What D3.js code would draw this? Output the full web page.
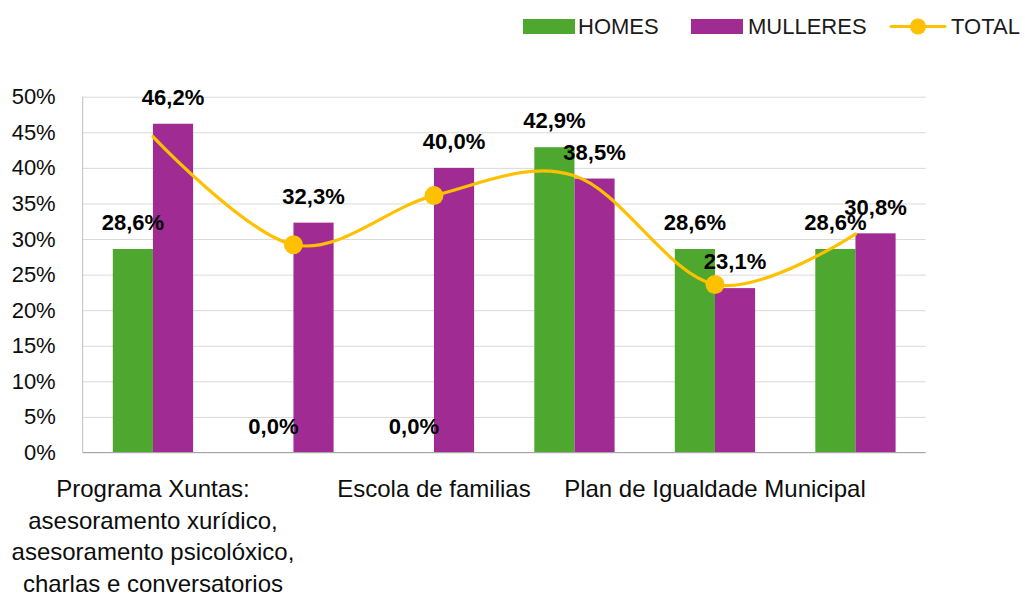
<!DOCTYPE html>
<html>
<head>
<meta charset="utf-8">
<script src="https://cdn.jsdelivr.net/npm/d3@7/dist/d3.min.js"></script>
<style>
  html, body { margin: 0; padding: 0; background: #ffffff; }
  svg { display: block; font-family: "Liberation Sans", Arial, sans-serif; }
</style>
</head>
<body>
<svg id="chart" width="1025" height="597"></svg>
<script>
// Categories (only every other label fits under the axis, the rest stay blank)
const categories = [
  ["Programa Xuntas:", "asesoramento xurídico,", "asesoramento psicolóxico,", "charlas e conversatorios"],
  [],
  ["Escola de familias"],
  [],
  ["Plan de Igualdade Municipal"],
  []
];
const seriesNames = ["HOMES", "MULLERES"];
const homes    = [28.6, 0.0, 0.0, 42.9, 28.6, 28.6];
const mulleres = [46.2, 32.3, 40.0, 38.5, 23.1, 30.8];
const total    = [44.4, 29.2, 36.1, 38.9, 23.6, 30.7];
const totalName = "TOTAL";
const yTicks = [0, 5, 10, 15, 20, 25, 30, 35, 40, 45, 50];

// Points of the TOTAL line that carry a round marker
const markedPoints = [1, 2, 4];

const colors = { HOMES: "#4EA72E", MULLERES: "#A02B93", TOTAL: "#FFC000" };

const W = 1025, H = 597;
const margin = { top: 96.7, right: 99.3, bottom: 144.5, left: 82.7 };
const innerW = W - margin.left - margin.right;
const innerH = H - margin.top - margin.bottom;

const svg = d3.select("#chart");
const g = svg.append("g").attr("transform", `translate(${margin.left},${margin.top})`);

const idx = d3.range(categories.length);
const x0 = d3.scaleBand().domain(idx).range([0, innerW]).padding(0);
const x1 = d3.scaleBand().domain(seriesNames).range([0, x0.bandwidth()])
  .paddingInner(0).paddingOuter(0.75);
const y = d3.scaleLinear().domain([0, 50]).range([innerH, 0]);

const fmtPct = v => d3.format(".1f")(v).replace(".", ",") + "%";

// Gridlines and y tick labels
const yAxis = d3.axisLeft(y).tickValues(yTicks).tickSize(-innerW).tickPadding(27)
  .tickFormat(d => d + "%");
const ya = g.append("g").call(yAxis);
ya.select(".domain").remove();
ya.selectAll(".tick line").attr("stroke", "#d9d9d9").attr("stroke-width", 1);
ya.selectAll(".tick text")
  .attr("fill", "#0d0d0d")
  .style("font-size", "22px")
  .style("font-family", "'Liberation Sans', Arial, sans-serif");

// Bars
const rows = idx.map(i => ({ i, HOMES: homes[i], MULLERES: mulleres[i] }));
const groups = g.selectAll("g.cat").data(rows).join("g")
  .attr("class", "cat")
  .attr("transform", d => `translate(${x0(d.i)},0)`);

groups.selectAll("rect").data(d => seriesNames.map(k => ({ k, v: d[k] }))).join("rect")
  .attr("x", d => x1(d.k))
  .attr("width", x1.bandwidth())
  .attr("y", d => y(d.v))
  .attr("height", d => innerH - y(d.v))
  .attr("fill", d => colors[d.k]);

// Axis lines: left edge and baseline
g.append("line").attr("x1", 0).attr("x2", 0).attr("y1", 0).attr("y2", innerH)
  .attr("stroke", "#bfbfbf").attr("stroke-width", 1);
g.append("line").attr("x1", 0).attr("x2", innerW).attr("y1", innerH).attr("y2", innerH)
  .attr("stroke", "#a6a6a6").attr("stroke-width", 1.2);

// TOTAL smoothed line
const cx = i => x0(i) + x0.bandwidth() / 2;
const line = d3.line()
  .x((d, i) => cx(i))
  .y(d => y(d))
  .curve(d3.curveCardinal.tension(0));
g.append("path")
  .datum(total)
  .attr("d", line)
  .attr("fill", "none")
  .attr("stroke", colors.TOTAL)
  .attr("stroke-width", 3.2)
  .attr("stroke-linecap", "round");

g.selectAll("circle.mk").data(markedPoints).join("circle")
  .attr("class", "mk")
  .attr("cx", i => cx(i))
  .attr("cy", i => y(total[i]))
  .attr("r", 9.5)
  .attr("fill", colors.TOTAL);

// Data labels above each bar
groups.selectAll("text.lbl").data(d => seriesNames.map(k => ({ k, v: d[k] }))).join("text")
  .attr("class", "lbl")
  .attr("x", d => x1(d.k) + x1.bandwidth() / 2)
  .attr("y", d => y(d.v) - 18.8)
  .attr("text-anchor", "middle")
  .attr("fill", "#000")
  .style("font-size", "22px")
  .style("font-weight", "bold")
  .text(d => fmtPct(d.v));

// Category labels
const catG = g.append("g").attr("transform", `translate(0,${innerH})`);
catG.selectAll("text").data(idx).join("text")
  .attr("x", i => cx(i))
  .attr("y", 44.5)
  .attr("text-anchor", "middle")
  .attr("fill", "#0d0d0d")
  .style("font-size", "24px")
  .each(function (i) {
    d3.select(this).selectAll("tspan").data(categories[i]).join("tspan")
      .attr("x", cx(i))
      .attr("dy", (d, j) => j === 0 ? 0 : 31.7)
      .text(d => d);
  });

// Legend
const legend = svg.append("g");
const legendItems = [
  { name: seriesNames[0], type: "rect", x: 523, tx: 578 },
  { name: seriesNames[1], type: "rect", x: 691, tx: 748 },
  { name: totalName, type: "line", x: 891, tx: 951 }
];
const ly = 26.5;
legendItems.forEach(it => {
  if (it.type === "rect") {
    legend.append("rect").attr("x", it.x).attr("y", ly - 7.5)
      .attr("width", 52).attr("height", 15).attr("fill", colors[it.name]);
  } else {
    legend.append("line").attr("x1", it.x).attr("x2", it.x + 54)
      .attr("y1", ly).attr("y2", ly)
      .attr("stroke", colors.TOTAL).attr("stroke-width", 3).attr("stroke-linecap", "round");
    legend.append("circle").attr("cx", it.x + 27).attr("cy", ly).attr("r", 8)
      .attr("fill", colors.TOTAL);
  }
  legend.append("text").attr("x", it.tx).attr("y", ly + 7.8)
    .attr("fill", "#1a1a1a")
    .style("font-size", "22px")
    .text(it.name);
});
</script>
</body>
</html>
